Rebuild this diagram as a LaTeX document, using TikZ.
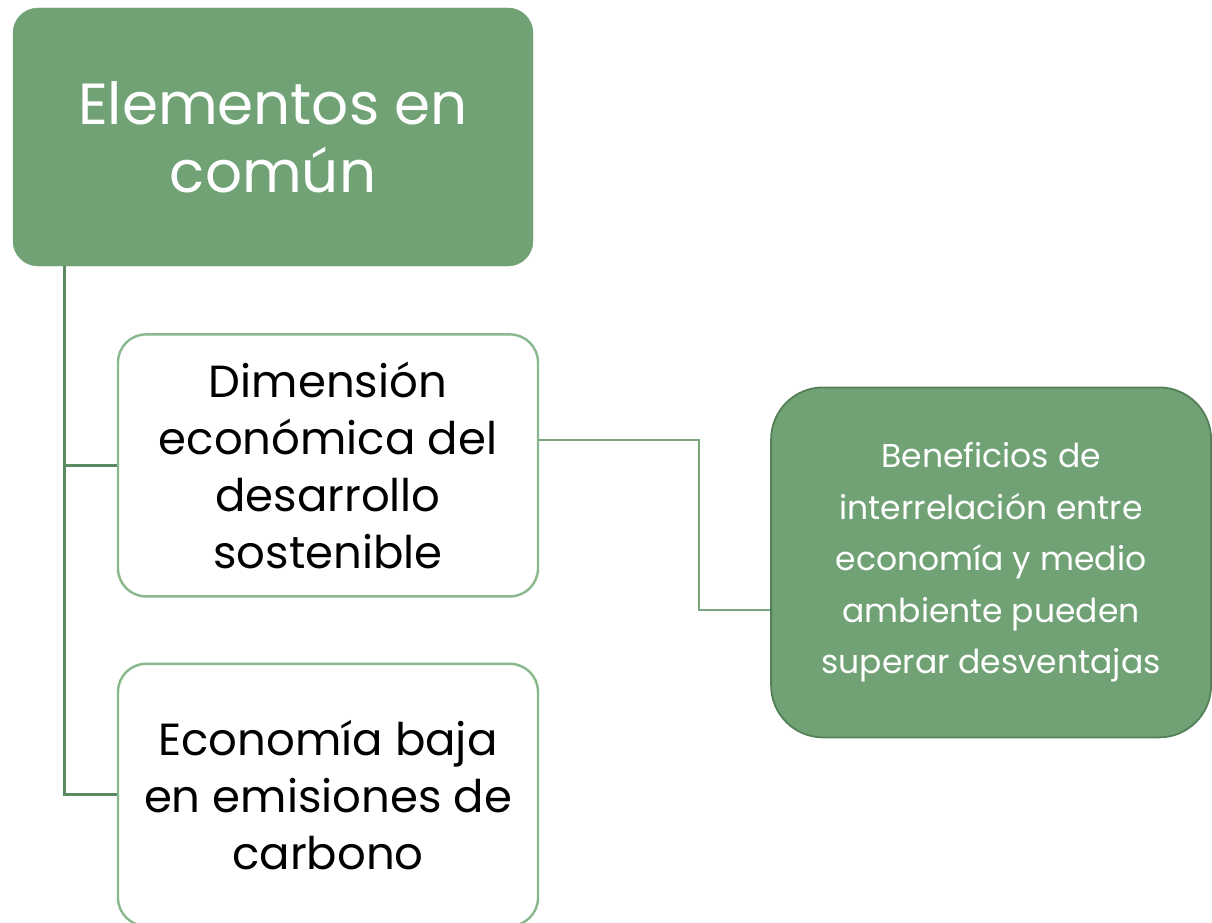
\documentclass[tikz,border=0pt]{standalone}
\usepackage{fontspec}
\setmainfont{Poppins}
\usetikzlibrary{positioning}

\definecolor{leaf}{RGB}{112,162,117}
\definecolor{leafdark}{RGB}{84,128,89}
\definecolor{stem}{RGB}{92,138,97}
\definecolor{rim}{RGB}{136,184,139}

\begin{document}
\begin{tikzpicture}[
  x=1pt, y=-1pt,
  node distance=65pt and 104pt,
  box/.style={rectangle, align=center, inner sep=0pt},
  head/.style={box, fill=leaf, draw=leaf, rounded corners=25pt,
               minimum width=520pt, minimum height=258pt, text=white,
               font=\fontsize{58}{68}\selectfont},
  sub/.style ={box, fill=white, draw=rim, line width=2.4pt, rounded corners=28pt,
               minimum width=420pt, minimum height=262pt,
               font=\fontsize{45}{57}\selectfont},
  note/.style={box, fill=leaf, draw=leafdark, line width=1.8pt, rounded corners=52pt,
               minimum width=440pt, minimum height=350pt, text=white,
               font=\fontsize{33}{51.5}\selectfont},
  trunk/.style={draw=stem, line width=3pt},
  link/.style={draw=rim!90!black, line width=2pt},
]
\useasboundingbox (0,0) rectangle (1212,923);

\node[head] (elem) at (273,137) {Elementos en\\común};
\node[sub, below right=67pt and 104pt of elem.south west] (dim)
     {Dimensión\\económica del\\desarrollo\\sostenible};
\node[sub, below=65pt of dim] (eco) {Economía baja\\en emisiones de\\carbono};
\node[note, right=231pt of dim, yshift=-97pt] (ben)
     {Beneficios de\\interrelación entre\\economía y medio\\ambiente pueden\\superar desventajas};

% tree lines
\draw[trunk] ([xshift=52pt]elem.south west) |- (eco.west);
\draw[trunk] ([xshift=52pt]elem.south west |- dim.west) -- (dim.west);
\draw[link] ([yshift=25pt]dim.east) -- ++(160pt,0) |- ([yshift=-48pt]ben.west);
\end{tikzpicture}
\end{document}
